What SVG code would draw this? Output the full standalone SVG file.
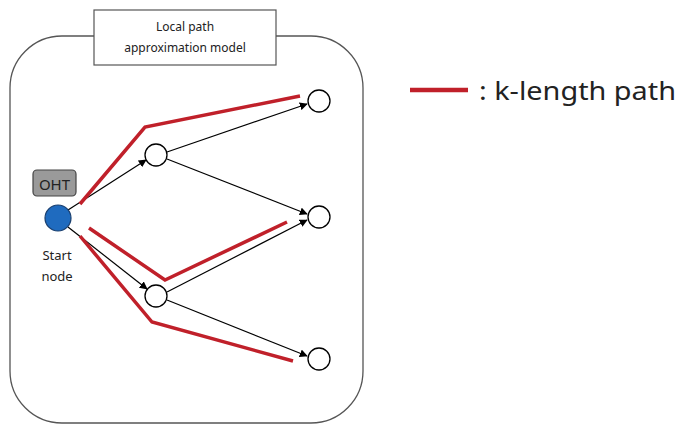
<svg xmlns="http://www.w3.org/2000/svg" width="680" height="425" viewBox="0 0 680 425">
<style>
.edge{stroke:#000;stroke-width:1.2;fill:none;marker-end:url(#ah)}
.red{stroke:#c0202a;stroke-width:3.5;fill:none;stroke-linejoin:miter}
.node{fill:#fff;stroke:#000;stroke-width:1.3}
.t{font-family:"Noto Sans","Open Sans",sans-serif;fill:#222}
</style>
<defs>
<marker id="ah" viewBox="0 0 10 10" refX="9" refY="5" markerWidth="8" markerHeight="8" markerUnits="userSpaceOnUse" orient="auto">
<path d="M0,0 L10,5 L0,10 z" fill="#000"/>
</marker>
</defs>
<rect width="680" height="425" fill="#fff"/>
<g id="container">
<rect x="10" y="36" width="353" height="387" rx="52" ry="52" fill="none" stroke="#555" stroke-width="1.3"/>
</g>
<g id="title">
<rect x="94" y="10" width="182" height="55" fill="#fff" stroke="#555" stroke-width="1.2"/>
<text class="t" x="185" y="31" font-size="12" text-anchor="middle">Local path</text>
<text class="t" x="185" y="52" font-size="12" text-anchor="middle">approximation model</text>
</g>
<g id="connectors">
<line class="edge" x1="68" y1="210" x2="146" y2="160"/>
<line class="edge" x1="68" y1="227" x2="147" y2="289"/>
<line class="edge" x1="167" y1="152" x2="307" y2="104"/>
<line class="edge" x1="167" y1="159" x2="307" y2="214"/>
<line class="edge" x1="167" y1="292" x2="307" y2="220"/>
<line class="edge" x1="167" y1="300" x2="307" y2="356"/>
</g>
<g id="k-paths">
<polyline class="red" points="80,204 145,127 300,96"/>
<polyline class="red" points="89,228 165,280 287,222"/>
<polyline class="red" points="80,236 152,322 293,361"/>
</g>
<g id="oht">
<rect x="33" y="170" width="43" height="26" rx="4" fill="#9a9a9a" stroke="#444" stroke-width="1.2"/>
<text class="t" x="54.5" y="189.5" font-size="15" text-anchor="middle">OHT</text>
</g>
<g id="start">
<circle cx="58" cy="218" r="13" fill="#1f6bbf" stroke="#1a3f6e" stroke-width="1.2"/>
<text class="t" x="57" y="260" font-size="13" text-anchor="middle">Start</text>
<text class="t" x="57" y="281" font-size="13" text-anchor="middle">node</text>
</g>
<g id="nA"><circle class="node" cx="156" cy="155" r="11"/></g>
<g id="nB"><circle class="node" cx="156" cy="296" r="11"/></g>
<g id="nC"><circle class="node" cx="319" cy="101" r="11"/></g>
<g id="nD"><circle class="node" cx="319" cy="217" r="11"/></g>
<g id="nE"><circle class="node" cx="319" cy="359" r="11"/></g>
<g id="legend">
<line x1="410" y1="90" x2="468" y2="90" stroke="#c0202a" stroke-width="4.5"/>
<text class="t" x="479" y="100" font-size="26" textLength="197" lengthAdjust="spacingAndGlyphs">: k-length path</text>
</g>
</svg>
